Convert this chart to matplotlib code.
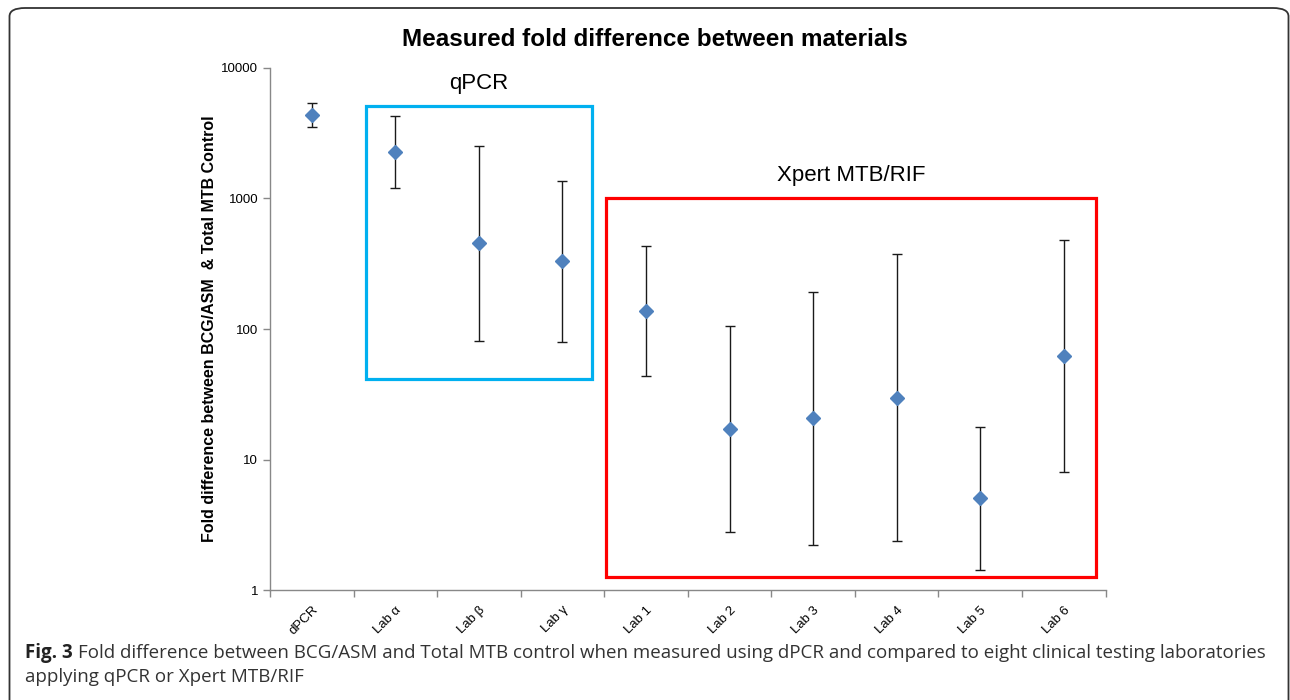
import numpy as np
import matplotlib
matplotlib.use("Agg")
import matplotlib.pyplot as plt
from matplotlib.patches import Rectangle, FancyBboxPatch

# Fold difference between BCG/ASM and Total MTB control
labels = ['dPCR', 'Lab α', 'Lab β', 'Lab γ', 'Lab 1', 'Lab 2', 'Lab 3',
          'Lab 4', 'Lab 5', 'Lab 6']
fold = [4370, 2280, 455, 330, 137, 17.1, 20.7, 29.8, 5.04, 61.8]
upper = [5420, 4310, 2540, 1360, 433, 106, 193, 373, 17.9, 479]
lower = [3510, 1200, 81, 79.5, 43.4, 2.78, 2.2, 2.36, 1.42, 7.98]
yticks = [1, 10, 100, 1000, 10000]

plt.rcParams['font.family'] = ['Liberation Sans', 'DejaVu Sans']

fig = plt.figure(figsize=(12.9, 7), dpi=100)
ax = fig.add_axes([0.2093, 0.157, 0.6477, 0.746])

x = np.arange(len(labels))
fold = np.array(fold)
yerr = np.vstack([fold - np.array(lower), np.array(upper) - fold])
ax.errorbar(x, fold, yerr=yerr, fmt='none', ecolor='#1a1a1a', elinewidth=1.0,
            capsize=3.5, capthick=1.0, zorder=2)
ax.plot(x, fold, linestyle='none', marker='D', markersize=7,
        color='#4F81BD', zorder=3)

ax.set_yscale('log')
ax.set_ylim(1, 10000)
ax.set_xlim(-0.5, len(labels) - 0.5)
ax.set_yticks(yticks)
ax.set_yticklabels([str(v) for v in yticks], fontsize=9.5)
ax.yaxis.set_minor_locator(matplotlib.ticker.NullLocator())

# ticks at category boundaries, labels centred in each category
ax.set_xticks(np.arange(len(labels) + 1) - 0.5)
ax.set_xticklabels([])
ax.set_xticks(x, minor=True)
ax.set_xticklabels(labels, minor=True, rotation=45, ha='right',
                   rotation_mode='anchor', fontsize=9.5)
ax.tick_params(axis='x', which='minor', length=0, pad=10)
ax.tick_params(axis='both', which='major', length=5, width=1,
               color='#888888', direction='out')

for s in ['top', 'right']:
    ax.spines[s].set_visible(False)
for s in ['left', 'bottom']:
    ax.spines[s].set_color('#888888')
    ax.spines[s].set_linewidth(1)

ax.set_ylabel('Fold difference between BCG/ASM  & Total MTB Control',
              fontsize=11.5, fontweight='bold', labelpad=3)

# group boxes
ax.add_patch(Rectangle((0.645, 41.4), 3.348 - 0.645, 5140 - 41.4,
                       fill=False, edgecolor='#00B0F0', linewidth=2.3,
                       clip_on=False, zorder=1))
ax.add_patch(Rectangle((3.519, 1.26), 9.389 - 3.519, 1000 - 1.26,
                       fill=False, edgecolor='#FF0000', linewidth=2.3,
                       clip_on=False, zorder=1))
ax.text((0.645 + 3.348) / 2, 7600, 'qPCR', ha='center', va='center',
        fontsize=16)
ax.text((3.519 + 9.389) / 2, 1500, 'Xpert MTB/RIF', ha='center',
        va='center', fontsize=16)

fig.text(655 / 1290, 1 - 40 / 700, 'Measured fold difference between materials',
         ha='center', va='center', fontsize=17.5, fontweight='bold')

# outer frame
frame = FancyBboxPatch((9.5 / 1290, -0.1), (1288.5 - 9.5) / 1290, 0.1 + 692 / 700,
                       boxstyle='round,pad=0,rounding_size=0.012',
                       transform=fig.transFigure, fill=False,
                       edgecolor='#333333', linewidth=1.3, clip_on=False)
fig.patches.append(frame)

# caption
cap_font = ['Open Sans', 'DejaVu Sans']
cap_size = 13.5
t1 = fig.text(25 / 1290, 1 - 658 / 700, 'Fig. 3', fontsize=cap_size,
              fontweight='bold', color='#222222', family=cap_font,
              va='baseline')
fig.canvas.draw()
bb = t1.get_window_extent()
fig.text(bb.x1 / 1290 + 5 / 1290, 1 - 658 / 700,
         'Fold difference between BCG/ASM and Total MTB control when measured '
         'using dPCR and compared to eight clinical testing laboratories',
         fontsize=cap_size, color='#333333', family=cap_font, va='baseline')
fig.text(25 / 1290, 1 - 682 / 700, 'applying qPCR or Xpert MTB/RIF',
         fontsize=cap_size, color='#333333', family=cap_font, va='baseline')

fig.savefig('out.png', dpi=100)
